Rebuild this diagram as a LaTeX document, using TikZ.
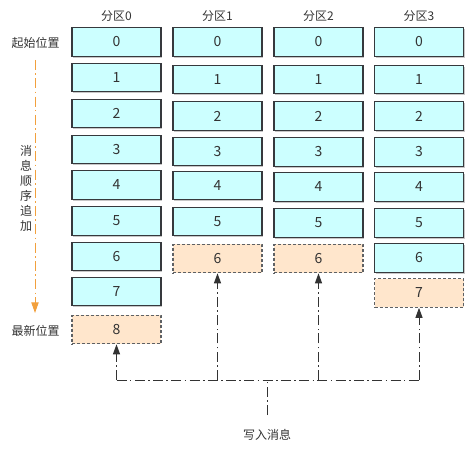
\documentclass[tikz,border=0pt]{standalone}
\usepackage{fontspec}
\setmainfont{Noto Sans CJK SC}
\usetikzlibrary{positioning,arrows.meta,shadows}
\definecolor{cellfill}{HTML}{CCFFFF}
\definecolor{newfill}{HTML}{FFE6CC}
\definecolor{cellline}{HTML}{36393D}
\definecolor{txtgray}{HTML}{333333}
\definecolor{orderline}{HTML}{F2A03D}
\tikzset{
  cellbase/.style={minimum width=66.75pt, minimum height=21.4pt, inner sep=0pt,
                   line width=0.8pt, text=txtgray, font=\fontsize{10.5}{12}\selectfont},
  cell/.style={cellbase, draw=cellline, fill=cellfill,
               drop shadow={shadow xshift=1.1pt, shadow yshift=-1.1pt, fill=black, opacity=0.22}},
  newcell/.style={cellbase, draw=cellline!80, fill=newfill, dash pattern=on 2.25pt off 1.5pt},
  lbl/.style={text=txtgray, font=\fontsize{9}{11}\selectfont, inner sep=0pt},
  wline/.style={draw=txtgray, line width=0.75pt, dash pattern=on 7.5pt off 2.5pt on 1.2pt off 2.5pt},
  warrow/.style={wline, -{Triangle[length=7.5pt,width=5.25pt]}}
}

\begin{document}
\begin{tikzpicture}[x=0.75pt, y=-0.75pt]
\useasboundingbox (0,0) rectangle (474,449);

% headers
\node[lbl] (h0) at (116.5,16) {分区0};
\node[lbl] (h1) at (217.5,16) {分区1};
\node[lbl] (h2) at (318.5,16) {分区2};
\node[lbl] (h3) at (419,16) {分区3};

% partition 0
\node[cell] (a0) at (116.5,42) {0};
\node[cell] (a1) at (116.5,77.5) {1};
\node[cell] (a2) at (116.5,113.5) {2};
\node[cell] (a3) at (116.5,149.5) {3};
\node[cell] (a4) at (116.5,185) {4};
\node[cell] (a5) at (116.5,221) {5};
\node[cell] (a6) at (116.5,256.5) {6};
\node[cell] (a7) at (116.5,291.5) {7};
\node[newcell] (a8) at (116.5,329.5) {8};

% partition 1
\node[cell] (b0) at (217.5,42) {0};
\node[cell] (b1) at (217.5,79.5) {1};
\node[cell] (b2) at (217.5,116) {2};
\node[cell] (b3) at (217.5,151.5) {3};
\node[cell] (b4) at (217.5,185.5) {4};
\node[cell] (b5) at (217.5,221.5) {5};
\node[newcell] (b6) at (217.5,258.5) {6};

% partition 2
\node[cell] (c0) at (318.5,42) {0};
\node[cell] (c1) at (318.5,79.5) {1};
\node[cell] (c2) at (318.5,116) {2};
\node[cell] (c3) at (318.5,152) {3};
\node[cell] (c4) at (318.5,187) {4};
\node[cell] (c5) at (318.5,223) {5};
\node[newcell] (c6) at (318.5,258.5) {6};

% partition 3
\node[cell] (d0) at (419,42) {0};
\node[cell] (d1) at (419,79.5) {1};
\node[cell] (d2) at (419,116) {2};
\node[cell] (d3) at (419,152) {3};
\node[cell] (d4) at (419,187) {4};
\node[cell] (d5) at (419,223) {5};
\node[cell] (d6) at (419,258) {6};
\node[newcell] (d7) at (419,293) {7};

% left side
\node[lbl] (start) at (35.5,43) {起始位置};
\node[lbl] (latest) at (35.5,331) {最新位置};
\node[lbl, align=center, font=\fontsize{9}{11.25}\selectfont] (order) at (26,188) {消\\息\\顺\\序\\追\\加};
\coordinate (otop) at (35,60);
\coordinate (obot) at (35,313);
\draw[draw=orderline, line width=0.75pt, dash pattern=on 7.5pt off 2.5pt on 1.2pt off 2.5pt,
      -{Triangle[length=8pt,width=5.5pt,fill=orderline]}] (otop) -- (obot);

% write
\node[lbl] (msg) at (267,435) {写入消息};
\coordinate (wbot) at (267,415);
\coordinate (wtop) at (267,380);
\draw[wline] (wbot) -- (wtop);
\draw[wline] (a8 |- wtop) -- (d7 |- wtop);
\draw[warrow] (a8 |- wtop) -- (a8);
\draw[warrow] (b6 |- wtop) -- (b6);
\draw[warrow] (c6 |- wtop) -- (c6);
\draw[warrow] (d7 |- wtop) -- (d7);
\end{tikzpicture}
\end{document}
